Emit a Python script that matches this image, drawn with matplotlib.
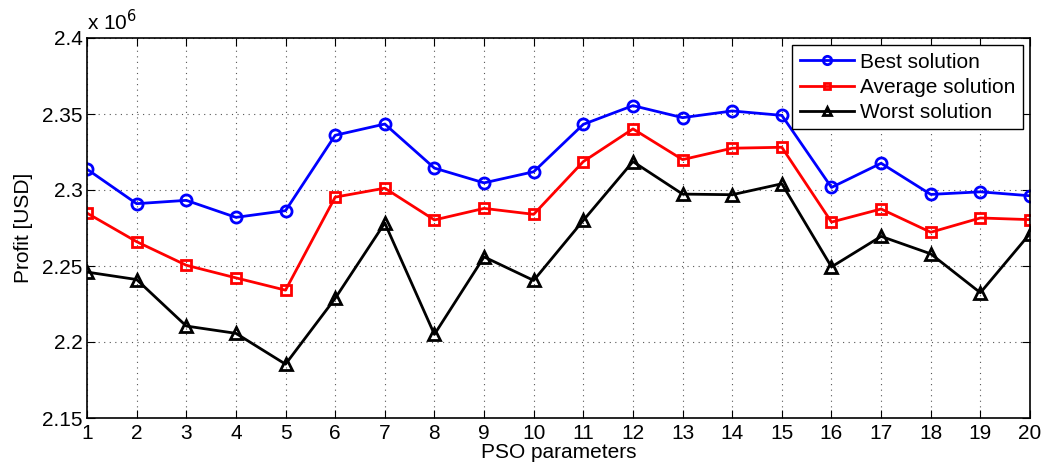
import matplotlib
matplotlib.use("Agg")
import matplotlib.pyplot as plt
from matplotlib.ticker import FuncFormatter, MultipleLocator

plt.rcParams['font.family'] = ['Liberation Sans', 'DejaVu Sans']

params = list(range(1, 21))
best = [2.3137, 2.2910, 2.2932, 2.2820, 2.2864, 2.3360, 2.3434, 2.3144, 2.3047, 2.3120,
        2.3432, 2.3555, 2.3476, 2.3520, 2.3491, 2.3017, 2.3176, 2.2971, 2.2988, 2.2962]
average = [2.2848, 2.2660, 2.2505, 2.2422, 2.2341, 2.2953, 2.3012, 2.2803, 2.2879, 2.2840,
           2.3187, 2.3402, 2.3200, 2.3275, 2.3281, 2.2789, 2.2875, 2.2722, 2.2816, 2.2805]
worst = [2.2460, 2.2411, 2.2105, 2.2057, 2.1854, 2.2287, 2.2783, 2.2050, 2.2560, 2.2405,
         2.2800, 2.3187, 2.2973, 2.2969, 2.3041, 2.2494, 2.2695, 2.2580, 2.2324, 2.2713]
scale = 1e6
best = [v * scale for v in best]
average = [v * scale for v in average]
worst = [v * scale for v in worst]

FS = 15

fig = plt.figure(figsize=(10.5, 4.75), dpi=100)
ax = fig.add_axes([87/1050, 1 - 418/475, (1030 - 87)/1050, (418 - 38)/475])

ax.plot(params, [v / scale for v in best], color='#0000ff', lw=2, marker='o', ms=8,
        mfc='none', mew=2, label='Best solution')
ax.plot(params, [v / scale for v in average], color='#ff0000', lw=2, marker='s', ms=6.5,
        mfc='none', mew=2, label='Average solution')
ax.plot(params, [v / scale for v in worst], color='black', lw=2, marker='^', ms=8.5,
        mfc='none', mew=2, label='Worst solution')

ax.set_xlim(1, 20)
ax.set_ylim(2.15, 2.4)
ax.xaxis.set_major_locator(MultipleLocator(1))
ax.yaxis.set_major_locator(MultipleLocator(0.05))
ax.yaxis.set_major_formatter(FuncFormatter(lambda v, p: '%g' % round(v, 4)))
ax.tick_params(direction='in', top=True, right=True, labelsize=FS, length=6, width=0.8)
ax.tick_params(axis='x', pad=4)
ax.tick_params(axis='y', pad=3)
ax.grid(True, linestyle=(0, (1, 4)), color='#555555', lw=0.8)
for s in ax.spines.values():
    s.set_linewidth(1.2)

ax.set_xlabel('PSO parameters', fontsize=FS, labelpad=0)
ax.set_ylabel('Profit [USD]', fontsize=FS, labelpad=7)
ax.text(0.0, 1.01, r'x 10$^{6}$', transform=ax.transAxes, fontsize=FS, ha='left', va='bottom')

leg = ax.legend(loc='upper right', fontsize=FS, frameon=True, fancybox=False,
                edgecolor='black', framealpha=1, borderaxespad=0.35,
                handlelength=2.6, handletextpad=0.3, labelspacing=0.3, borderpad=0.35,
                markerscale=0.75)
leg.get_frame().set_linewidth(1.0)

fig.savefig('out.png', dpi=100)
